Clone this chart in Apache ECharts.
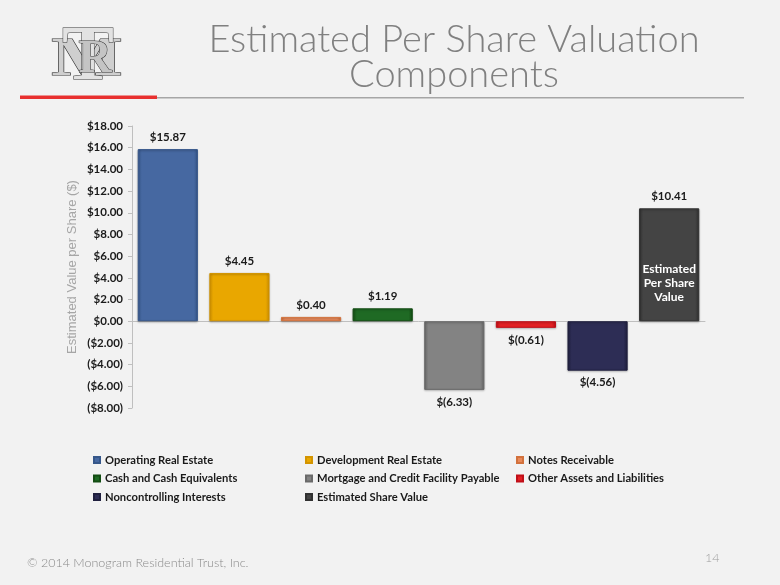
<!DOCTYPE html>
<html>
<head>
<meta charset="utf-8">
<script src="https://cdn.jsdelivr.net/npm/echarts@6/dist/echarts.min.js"></script>
<style>
html,body{margin:0;padding:0;background:#f2f2f2;}
#c{width:780px;height:585px;}
</style>
</head>
<body>
<div id="c"></div>
<script>
var categories = ['Operating Real Estate','Development Real Estate','Notes Receivable','Cash and Cash Equivalents','Mortgage and Credit Facility Payable','Other Assets and Liabilities','Noncontrolling Interests','Estimated Share Value'];
var values = [15.87, 4.45, 0.40, 1.19, -6.33, -0.61, -4.56, 10.41];
var colors = [
  ['#36578a','#4668a1'],
  ['#d39400','#e9a700'],
  ['#d2713c','#e8895a'],
  ['#134d13','#1f6a24'],
  ['#6a6a6a','#838383'],
  ['#c00f18','#e42124'],
  ['#20203f','#2d2d55'],
  ['#313131','#444444']
];
var yTicks = {min: -8, max: 18, interval: 2};
var legendCols = [
  ['Operating Real Estate','Cash and Cash Equivalents','Noncontrolling Interests'],
  ['Development Real Estate','Mortgage and Credit Facility Payable','Estimated Share Value'],
  ['Notes Receivable','Other Assets and Liabilities']
];
var innerLabel = 'Estimated\nPer Share\nValue';
var titleText = 'Estimated Per Share Valua\u200Cti\u200Con\nComponents';

function money(v){
  return v >= 0 ? '$' + v.toFixed(2) : '$(' + (-v).toFixed(2) + ')';
}
function axisMoney(v){
  return v >= 0 ? '$' + v.toFixed(2) : '($' + (-v).toFixed(2) + ')';
}
var font = 'Lato, "Open Sans", sans-serif';

var series = categories.map(function(name, i){
  var data = categories.map(function(c, j){ return j === i ? values[i] : '-'; });
  var s = {
    name: name,
    type: 'bar',
    stack: 'all',
    barCategoryGap: '16%',
    data: data,
    itemStyle: {
      color: new echarts.graphic.LinearGradient(0, 0, 1, 0, [
        {offset: 0, color: colors[i][0]},
        {offset: 0.07, color: colors[i][1]},
        {offset: 0.93, color: colors[i][1]},
        {offset: 1, color: colors[i][0]}
      ]),
      borderColor: colors[i][0],
      borderWidth: 1,
      shadowColor: 'rgba(0,0,0,0.25)',
      shadowBlur: 2,
      shadowOffsetY: 1
    },
    label: {
      show: true,
      position: values[i] >= 0 ? 'top' : 'bottom',
      distance: 6,
      formatter: function(p){ return money(p.value); },
      color: '#1a1a1a',
      fontFamily: font,
      fontWeight: 'bold',
      fontSize: 11.5
    }
  };
  if (i === categories.length - 1) {
    s.markPoint = {
      symbol: 'rect',
      symbolSize: 0,
      data: [{coord: [i, 0]}],
      label: {
        show: true,
        position: 'inside',
        offset: [0, -38],
        formatter: innerLabel,
        color: '#ffffff',
        fontFamily: font,
        fontWeight: 'bold',
        fontSize: 12,
        lineHeight: 14,
        align: 'center'
      }
    };
  }
  return s;
});

var legendLefts = [93, 305, 516];
var legends = legendCols.map(function(col, k){
  return {
    orient: 'vertical',
    left: legendLefts[k],
    top: 453,
    padding: 0,
    data: col,
    icon: 'rect',
    itemWidth: 6,
    itemHeight: 6,
    itemGap: 4.5,
    selectedMode: false,
    textStyle: {color: '#1a1a1a', fontFamily: font, fontWeight: 'bold', fontSize: 11.2, lineHeight: 14}
  };
});

var chart = echarts.init(document.getElementById('c'));
chart.setOption({
  backgroundColor: '#f2f2f2',
  animation: false,
  title: {
    text: titleText,
    left: 449,
    top: 17,
    textAlign: 'center',
    textStyle: {color: '#808080', fontFamily: 'Lato, sans-serif', fontWeight: 300, fontSize: 38, lineHeight: 35}
  },
  grid: {left: 132, right: 75, top: 126, bottom: 177},
  legend: legends,
  xAxis: {
    type: 'category',
    data: categories,
    axisLabel: {show: false},
    axisTick: {show: false},
    axisLine: {lineStyle: {color: '#bfbfbf'}}
  },
  yAxis: {
    type: 'value',
    min: yTicks.min,
    max: yTicks.max,
    interval: yTicks.interval,
    name: 'Estimated Value per Share ($)',
    nameLocation: 'middle',
    nameGap: 53,
    nameMoveOverlap: false,
    nameTextStyle: {color: '#a6a6a6', fontFamily: '"Liberation Sans", Arial, sans-serif', fontSize: 13},
    axisLine: {show: true, lineStyle: {color: '#bfbfbf'}},
    axisTick: {show: true, length: 4, lineStyle: {color: '#bfbfbf'}},
    splitLine: {show: false},
    axisLabel: {
      formatter: axisMoney,
      color: '#1a1a1a',
      fontFamily: font,
      fontWeight: 'bold',
      fontSize: 11.5,
      margin: 9
    }
  },
  graphic: [
    {type: 'rect', shape: {x: 20, y: 97, width: 724, height: 1.5}, style: {fill: '#a6a6a6'}},
    {type: 'rect', shape: {x: 20, y: 95.5, width: 137, height: 3.5}, style: {fill: '#e8302f'}},
    {type: 'text', left: 27, top: 556, style: {text: '\u00a9 2014 Monogram Residential Trust, Inc.', fill: '#8a8a8a', font: '300 12.5px Lato, sans-serif'}},
    {type: 'text', left: 705, top: 551, style: {text: '14', fill: '#a0a0a0', font: '300 12.5px Lato, sans-serif'}},
    {type: 'text', x: 87, y: 88, scaleX: 1.4,
      style: {text: 'M', x: 0, y: 0, align: 'center', verticalAlign: 'bottom', fill: '#cfcfcf', stroke: '#333333', lineWidth: 1, font: 'bold 54px "Liberation Serif", serif'}},
    {type: 'text', style: {text: 'T', x: 88, y: 98, align: 'center', verticalAlign: 'bottom', fill: '#e2e2e2', stroke: '#333333', lineWidth: 1, font: 'bold 78px "Liberation Serif", serif'}},
    {type: 'text', style: {text: 'R', x: 95, y: 83, align: 'center', verticalAlign: 'bottom', fill: '#c4c4c4', stroke: '#333333', lineWidth: 1, font: 'bold 46px "Liberation Serif", serif'}}
  ],
  series: series
});
</script>
</body>
</html>
